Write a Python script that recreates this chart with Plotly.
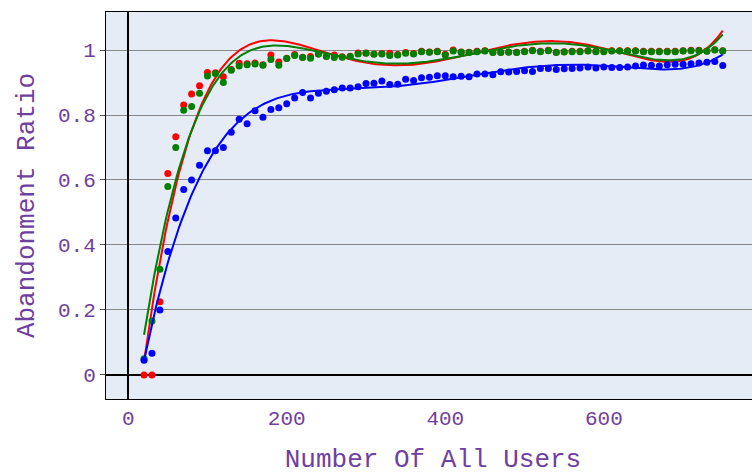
import numpy as np
import plotly.graph_objs as go

users = list(range(20, 760, 10))

red_ratio = [0.0, 0.0, 0.225, 0.62, 0.733, 0.831, 0.865, 0.89, 0.931, 0.93,
             0.918, 0.94, 0.959, 0.958, 0.96, 0.955, 0.985, 0.963, 0.975, 0.986,
             0.978, 0.98, 0.988, 0.981, 0.985, 0.979, 0.981, 0.991, 0.991, 0.988,
             0.989, 0.99, 0.986, 0.992, 0.989, 0.996, 0.994, 0.996, 0.987, 1.0,
             0.994, 0.993, 0.996, 0.998, 0.993, 0.993, 0.994, 0.993, 0.996, 0.999,
             0.996, 0.999, 0.993, 0.995, 0.996, 0.996, 0.998, 0.996, 0.996, 0.998,
             0.998, 0.998, 0.998, 0.996, 0.996, 0.996, 0.996, 0.996, 0.998, 0.999,
             0.999, 0.997, 1.001, 0.998]

green_ratio = [0.05, 0.166, 0.325, 0.58, 0.70, 0.815, 0.826, 0.867, 0.92, 0.928,
               0.90, 0.938, 0.951, 0.955, 0.957, 0.953, 0.971, 0.953, 0.974, 0.983,
               0.977, 0.975, 0.988, 0.98, 0.977, 0.978, 0.98, 0.988, 0.99, 0.987,
               0.988, 0.983, 0.985, 0.99, 0.988, 0.995, 0.993, 0.995, 0.985, 0.997,
               0.993, 0.992, 0.995, 0.997, 0.992, 0.992, 0.993, 0.992, 0.995, 0.998,
               0.995, 0.998, 0.992, 0.994, 0.995, 0.995, 0.997, 0.995, 0.995, 0.997,
               0.997, 0.997, 0.997, 0.995, 0.995, 0.995, 0.995, 0.995, 0.997, 0.998,
               0.998, 0.996, 1.0, 0.997]

blue_ratio = [0.045, 0.067, 0.20, 0.38, 0.483, 0.571, 0.60, 0.645, 0.69, 0.69,
              0.70, 0.747, 0.787, 0.773, 0.813, 0.793, 0.817, 0.822, 0.835, 0.852,
              0.869, 0.852, 0.867, 0.873, 0.878, 0.883, 0.883, 0.887, 0.897, 0.898,
              0.905, 0.894, 0.895, 0.91, 0.906, 0.915, 0.916, 0.921, 0.921, 0.918,
              0.919, 0.918, 0.926, 0.926, 0.924, 0.933, 0.932, 0.934, 0.936, 0.934,
              0.943, 0.943, 0.94, 0.942, 0.943, 0.945, 0.948, 0.945, 0.948, 0.946,
              0.946, 0.948, 0.951, 0.954, 0.953, 0.951, 0.955, 0.956, 0.956, 0.958,
              0.96, 0.962, 0.965, 0.952]

DEG = 5
font = dict(family='Liberation Mono, Courier New, monospace', color='#7040a0')

xs = np.array(users, dtype=float)
xfit = np.linspace(xs.min(), xs.max(), 300)

data = []
for vals, col in [(red_ratio, 'red'), (green_ratio, 'green'), (blue_ratio, 'blue')]:
    data.append(go.Scatter(x=users, y=vals, mode='markers',
                           marker=dict(size=7, color=col)))
    coef = np.polyfit(xs, np.array(vals), DEG)
    data.append(go.Scatter(x=xfit, y=np.polyval(coef, xfit), mode='lines',
                           line=dict(color=col, width=2)))

layout = go.Layout(
    width=760, height=480,
    showlegend=False,
    font=dict(size=21, **font),
    margin=dict(l=106, r=0, t=12, b=81),
    plot_bgcolor='#E5ECF6',
    paper_bgcolor='white',
    xaxis=dict(title=dict(text='Number Of All Users', font=dict(size=26), standoff=18),
               range=[-28, 797], showgrid=False, zeroline=True,
               zerolinecolor='black', zerolinewidth=2,
               showline=True, mirror=True, linecolor='black', linewidth=1,
               tickvals=[0, 200, 400, 600], automargin=True),
    yaxis=dict(title=dict(text='Abandonment Ratio', font=dict(size=26)),
               range=[-0.074, 1.117], showgrid=True, gridcolor='#888888',
               gridwidth=1, zeroline=True, zerolinecolor='black', zerolinewidth=2,
               showline=True, mirror=True, linecolor='black', linewidth=1,
               ticks='outside', ticklen=5, tickcolor='#555555',
               tickvals=[0, 0.2, 0.4, 0.6, 0.8, 1],
               ticktext=['0', '0.2', '0.4', '0.6', '0.8', '1'], automargin=False),
)
fig = go.Figure(data=data, layout=layout)
# page without body margin or scrollbars, so the figure sits at the corner
fig.write_html('out.html', config={'displayModeBar': False},
               post_script="document.body.style.margin='0';"
                           "document.body.style.overflow='hidden';")
